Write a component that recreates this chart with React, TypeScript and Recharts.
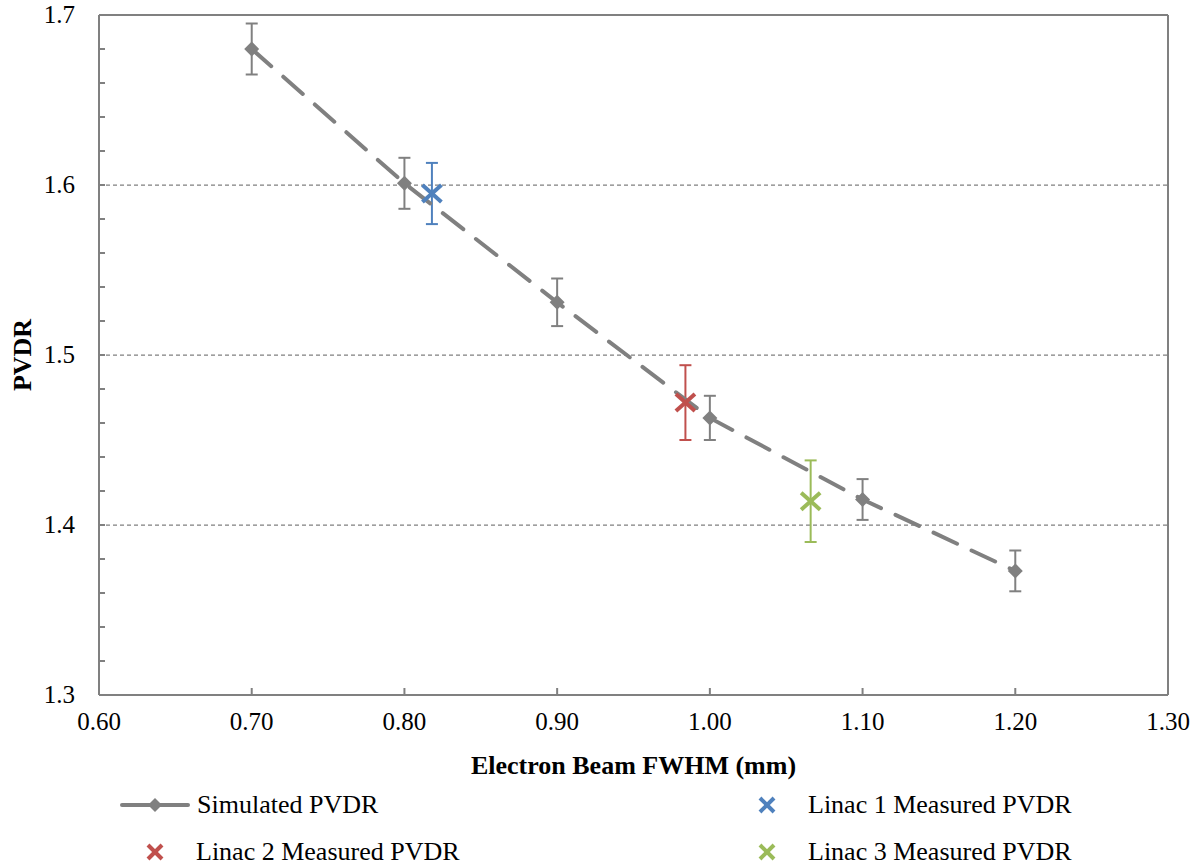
import { ScatterChart, Scatter, XAxis, YAxis, ErrorBar, ReferenceLine } from 'recharts';

const simName = 'Simulated PVDR';
const simX = [0.7, 0.8, 0.9, 1.0, 1.1, 1.2];
const simY = [1.68, 1.601, 1.531, 1.463, 1.415, 1.373];
const simErr = [0.015, 0.015, 0.014, 0.013, 0.012, 0.012];

const linacNames = ['Linac 1 Measured PVDR', 'Linac 2 Measured PVDR', 'Linac 3 Measured PVDR'];
const linacX = [0.818, 0.984, 1.066];
const linacY = [1.595, 1.472, 1.414];
const linacErr = [0.018, 0.022, 0.024];
const linacColors = ['#4F81BD', '#C0504D', '#9BBB59'];

const xTicks = [0.6, 0.7, 0.8, 0.9, 1.0, 1.1, 1.2, 1.3];
const yTicks = [
  1.3, 1.32, 1.34, 1.36, 1.38, 1.4, 1.42, 1.44, 1.46, 1.48, 1.5,
  1.52, 1.54, 1.56, 1.58, 1.6, 1.62, 1.64, 1.66, 1.68, 1.7,
];
const gridValues = [1.4, 1.5, 1.6];

const GRAY = '#808080';
const FONT = '"Liberation Serif", "Times New Roman", serif';

const simData = simX.map((x, i) => ({ x, y: simY[i], err: simErr[i] }));
const linacData = linacX.map((x, i) => [{ x, y: linacY[i], err: linacErr[i] }]);

const Diamond = ({ cx, cy }: any) => (
  <path d={`M${cx},${cy - 7.5}L${cx + 7.5},${cy}L${cx},${cy + 7.5}L${cx - 7.5},${cy}Z`} fill={GRAY} />
);

const makeCross = (color: string, h = 9.5, v = 8.5, w = 4) => ({ cx, cy }: any) => (
  <g stroke={color} strokeWidth={w}>
    <line x1={cx - h} y1={cy - v} x2={cx + h} y2={cy + v} />
    <line x1={cx - h} y1={cy + v} x2={cx + h} y2={cy - v} />
  </g>
);

const YTick = ({ x, y, payload }: any) => {
  const v = payload.value;
  const major = Math.abs(v * 10 - Math.round(v * 10)) < 1e-6;
  const inner = v > 1.301 && v < 1.699;
  return (
    <g>
      {inner && <line x1={x} x2={x + 6} y1={y} y2={y} stroke={GRAY} strokeWidth={2} />}
      {major && (
        <text x={x - 24} y={y + 8} textAnchor="end" fontSize={25} fontFamily={FONT} fill="#000">
          {v.toFixed(1)}
        </text>
      )}
    </g>
  );
};

const XTick = ({ x, y, payload }: any) => {
  const v = payload.value;
  const inner = v > 0.601 && v < 1.299;
  return (
    <g>
      {inner && <line x1={x} x2={x} y1={y} y2={y - 7} stroke={GRAY} strokeWidth={2} />}
      <text x={x} y={y + 35} textAnchor="middle" fontSize={25} fontFamily={FONT} fill="#000">
        {v.toFixed(2)}
      </text>
    </g>
  );
};

const LegendIcon = ({ kind, color }: { kind: string; color: string }) =>
  kind === 'line' ? (
    <svg width={70} height={20} style={{ display: 'block' }}>
      <line x1={2} x2={68} y1={10} y2={10} stroke={GRAY} strokeWidth={4} strokeLinecap="round" />
      <path d="M35,3L42,10L35,17L28,10Z" fill={GRAY} />
    </svg>
  ) : (
    <svg width={70} height={20} style={{ display: 'block' }}>
      <g stroke={color} strokeWidth={4}>
        <line x1={28} y1={3} x2={42} y2={17} />
        <line x1={28} y1={17} x2={42} y2={3} />
      </g>
    </svg>
  );

const legendItems = [
  { name: simName, kind: 'line', color: GRAY, left: 120, top: 805 },
  { name: linacNames[0], kind: 'cross', color: linacColors[0], left: 732, top: 805 },
  { name: linacNames[1], kind: 'cross', color: linacColors[1], left: 120, top: 852 },
  { name: linacNames[2], kind: 'cross', color: linacColors[2], left: 732, top: 852 },
];

export default function App() {
  return (
    <div
      style={{
        position: 'absolute',
        left: 0,
        top: 0,
        width: 1204,
        height: 867,
        background: '#fff',
        fontFamily: FONT,
        overflow: 'hidden',
      }}
    >
      <ScatterChart width={1204} height={867} margin={{ top: 15, right: 36, left: 0, bottom: 0 }}>
        <XAxis
          type="number"
          dataKey="x"
          domain={[0.6, 1.3]}
          ticks={xTicks}
          interval={0}
          height={172}
          tickSize={0}
          tickMargin={0}
          tick={<XTick />}
          axisLine={{ stroke: GRAY, strokeWidth: 2 }}
          label={{
            value: 'Electron Beam FWHM (mm)',
            position: 'insideTop',
            offset: 61,
            style: { fontSize: 26, fontWeight: 'bold', fontFamily: FONT, fill: '#000' },
          }}
        />
        <YAxis
          type="number"
          dataKey="y"
          domain={[1.3, 1.7]}
          ticks={yTicks}
          interval={0}
          width={99}
          tickSize={0}
          tickMargin={0}
          tick={<YTick />}
          axisLine={{ stroke: GRAY, strokeWidth: 2 }}
          label={{
            value: 'PVDR',
            angle: -90,
            position: 'insideLeft',
            offset: 22,
            style: { fontSize: 26, fontWeight: 'bold', fontFamily: FONT, fill: '#000', textAnchor: 'middle' },
          }}
        />
        {gridValues.map((v) => (
          <ReferenceLine key={v} y={v} stroke={GRAY} strokeWidth={1.25} strokeDasharray="4 3" />
        ))}
        <ReferenceLine y={1.7} stroke={GRAY} strokeWidth={2} />
        <ReferenceLine x={1.3} stroke={GRAY} strokeWidth={2} />
        <Scatter
          name={simName}
          data={simData}
          fill={GRAY}
          shape={<Diamond />}
          line={{ stroke: GRAY, strokeWidth: 4, strokeDasharray: '26 16', strokeLinecap: 'round' }}
          isAnimationActive={false}
        >
          <ErrorBar dataKey="err" direction="y" width={6} stroke={GRAY} strokeWidth={2} isAnimationActive={false} />
        </Scatter>
        {linacData.map((d, i) => (
          <Scatter
            key={linacNames[i]}
            name={linacNames[i]}
            data={d}
            fill={linacColors[i]}
            shape={makeCross(linacColors[i])}
            isAnimationActive={false}
          >
            <ErrorBar
              dataKey="err"
              direction="y"
              width={6}
              stroke={linacColors[i]}
              strokeWidth={2}
              isAnimationActive={false}
            />
          </Scatter>
        ))}
      </ScatterChart>
      {legendItems.map((it) => (
        <div
          key={it.name}
          style={{
            position: 'absolute',
            left: it.left,
            top: it.top - 16,
            height: 32,
            display: 'flex',
            alignItems: 'center',
            fontSize: 26,
            lineHeight: '32px',
            color: '#000',
            whiteSpace: 'nowrap',
          }}
        >
          <LegendIcon kind={it.kind} color={it.color} />
          <span style={{ marginLeft: it.kind === 'line' ? 7 : 6 }}>{it.name}</span>
        </div>
      ))}
    </div>
  );
}
